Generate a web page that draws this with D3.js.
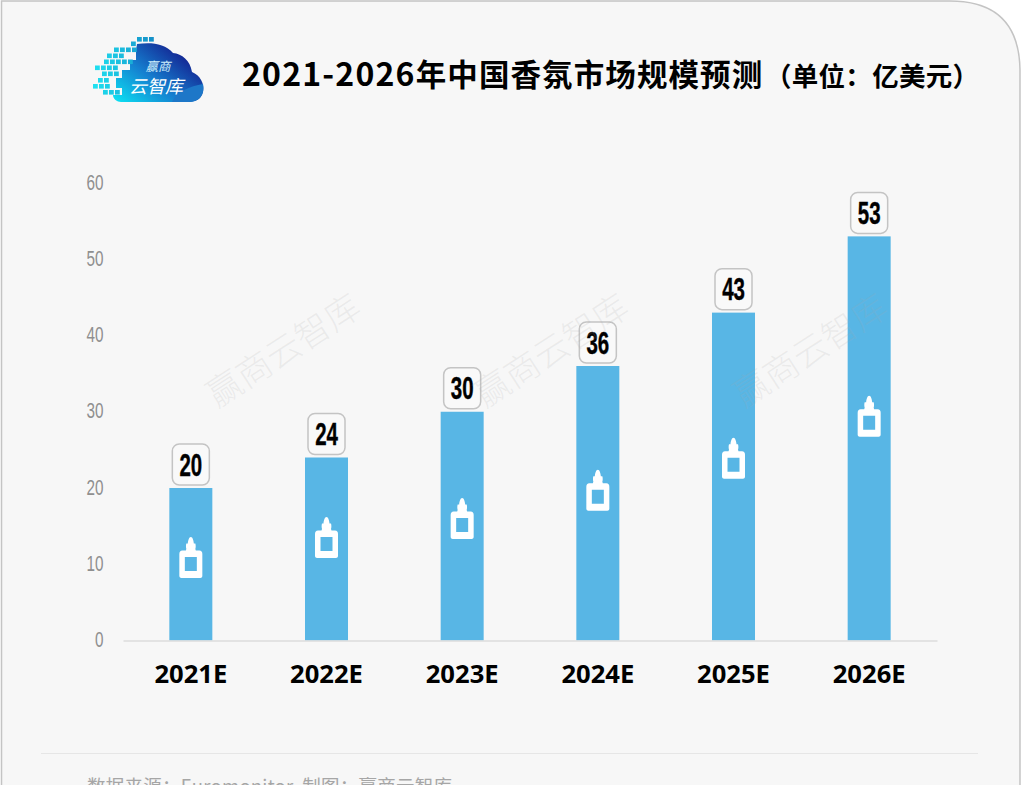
<!DOCTYPE html>
<html>
<head>
<meta charset="utf-8">
<script src="https://cdn.jsdelivr.net/npm/d3@7"></script>
<style>
  html, body { margin: 0; padding: 0; background: #fff; overflow: hidden; }
  svg { display: block; }
</style>
</head>
<body>
<script>
const years = ['2021E', '2022E', '2023E', '2024E', '2025E', '2026E'];
const values = [20, 24, 30, 36, 43, 53];
const bottleLevels = [10.9, 13.5, 16, 19.7, 23.9, 29.4];
const yTicks = [0, 10, 20, 30, 40, 50, 60];
const titleYears = '2021-2026';
const titleMain = '年中国香氛市场规模预测';
const titleUnit = '（单位：亿美元）';
const sourceText = '数据来源：Euromonitor  制图：赢商云智库';
const watermarkText = '赢商云智库';

const w = 1021;
const h = 785;
const cjk = '"Noto Sans CJK SC", "Noto Sans", sans-serif';
const liberation = '"Liberation Sans", sans-serif';

const svg = d3.select('body').append('svg').attr('width', w).attr('height', h);

// Card with the rounded top right corner
svg.append('path')
  .attr('d', 'M1.5,800 V1 H950 Q1019,1 1020,70 V800')
  .attr('fill', '#f7f7f7')
  .attr('stroke', '#c4c4c4')
  .attr('stroke-width', 1.5);

const defs = svg.append('defs');
const grad = defs.append('linearGradient').attr('id', 'cloud')
  .attr('x1', 0).attr('y1', 1).attr('x2', 1).attr('y2', 0.2);
grad.append('stop').attr('offset', '0%').attr('stop-color', '#0ce6f4');
grad.append('stop').attr('offset', '45%').attr('stop-color', '#1580d0');
grad.append('stop').attr('offset', '85%').attr('stop-color', '#142a96');

// Logo
const logo = svg.append('g').attr('class', 'logo');
logo.append('path')
  .attr('d', 'M137,44 C150,42 165,43 173,53 C182,54 190,60 192,72 C200,75 205,84 203,92 C201,100 195,102 188,102 H121 C117,102 113,99 113,95 H122 V88 H116 V78 H122 V70 H130 V60 H136 V50 Z')
  .attr('fill', 'url(#cloud)');
logo.append('path')
  .attr('d', 'M172,102 C176,92 190,86 203,84 C205,94 200,102 188,102 Z')
  .attr('fill', '#1d77c8');

// y position and x starts of the little squares, row by row
const logoRows = [
  { y: 37, xs: [137, 143, 149] },
  { y: 41.5, xs: [131] },
  { y: 47.5, xs: [114, 120, 126, 132] },
  { y: 53.5, xs: [107, 113, 119] },
  { y: 59.5, xs: [104, 110, 116, 122, 128] },
  { y: 65.5, xs: [95, 101, 107, 113] },
  { y: 71.5, xs: [102, 108, 114] },
  { y: 78, xs: [98, 104] },
  { y: 84, xs: [93, 99, 105] },
  { y: 90, xs: [103, 109, 115] }
];
const logoColors = d3.scaleLinear().domain([93, 150]).range(['#1fe0f0', '#1590c8']);
logo.selectAll('g.row')
  .data(logoRows)
  .enter()
  .append('g')
  .attr('class', 'row')
  .selectAll('rect')
  .data(d => d.xs.map(x => ({ x, y: d.y })))
  .enter()
  .append('rect')
  .attr('x', d => d.x)
  .attr('y', d => d.y)
  .attr('width', 4.8)
  .attr('height', 4.6)
  .attr('fill', d => logoColors(d.x));
logo.append('text')
  .attr('x', 158).attr('y', 70.5)
  .attr('text-anchor', 'middle')
  .attr('font-family', cjk).attr('font-size', 12.5).attr('font-style', 'italic')
  .attr('fill', '#cfeefa')
  .text('赢商');
logo.append('text')
  .attr('x', 156).attr('y', 93)
  .attr('text-anchor', 'middle')
  .attr('font-family', cjk).attr('font-size', 18).attr('font-style', 'italic')
  .attr('fill', '#fff')
  .text('云智库');

// Title
const title = svg.append('text')
  .attr('x', 242).attr('y', 86)
  .attr('font-family', cjk).attr('font-size', 30.5).attr('font-weight', 700)
  .attr('fill', '#000');
title.append('tspan').attr('font-size', 32).attr('letter-spacing', 1.2).text(titleYears);
title.append('tspan').attr('letter-spacing', 1.1).text(titleMain);
svg.append('text')
  .attr('x', 765).attr('y', 86)
  .attr('font-family', cjk).attr('font-size', 26.5).attr('font-weight', 700)
  .attr('fill', '#000')
  .attr('textLength', 214)
  .attr('lengthAdjust', 'spacing')
  .text(titleUnit);

// Scales
const xScale = d3.scaleBand()
  .domain(years)
  .range([123, 937])
  .paddingInner(0.683)
  .paddingOuter(0.3415);

const yScale = d3.scaleLinear()
  .domain([0, 60])
  .range([640.5, 183]);

// Bars
svg.selectAll('rect.bar')
  .data(values)
  .enter()
  .append('rect')
  .attr('class', 'bar')
  .attr('x', (d, i) => xScale(years[i]))
  .attr('y', d => yScale(d))
  .attr('width', xScale.bandwidth())
  .attr('height', d => yScale(0) - yScale(d))
  .attr('fill', '#58b6e5');

// Bottle icon
svg.selectAll('path.bottle')
  .data(bottleLevels)
  .enter()
  .append('path')
  .attr('class', 'bottle')
  .attr('transform', (d, i) =>
    `translate(${xScale(years[i]) + xScale.bandwidth() / 2},${yScale(d)})`)
  .attr('fill', '#fff')
  .attr('fill-rule', 'evenodd')
  .attr('d', 'M0,-20.5 C1.8,-20.5 2.8,-17 3,-14 H4.5 C5,-12.5 5,-10 4.5,-8.5 L5,-7 H8.5 C10.5,-7 11.5,-5.5 11.5,-3.5 V18.5 C11.5,19.8 10.5,20.5 9.5,20.5 H-9.5 C-10.5,20.5 -11.5,19.8 -11.5,18.5 V-3.5 C-11.5,-5.5 -10.5,-7 -8.5,-7 H-5 L-4.5,-8.5 C-5,-10 -5,-12.5 -4.5,-14 H-3 C-2.8,-17 -1.8,-20.5 0,-20.5 Z M-6,-0.5 V13.5 H6 V-0.5 Z');

// Value labels
const labels = svg.selectAll('g.value')
  .data(values)
  .enter()
  .append('g')
  .attr('class', 'value')
  .attr('transform', (d, i) =>
    `translate(${xScale(years[i]) + xScale.bandwidth() / 2},${yScale(d) - 23.5})`);
labels.append('rect')
  .attr('x', -18.5).attr('y', -20.5)
  .attr('width', 37).attr('height', 41)
  .attr('rx', 7)
  .attr('fill', '#f9f9f9')
  .attr('stroke', '#c4c4c4')
  .attr('stroke-width', 1.5);
labels.append('text')
  .attr('transform', 'translate(0,11) scale(0.66,1)')
  .attr('text-anchor', 'middle')
  .attr('font-family', liberation).attr('font-size', 31).attr('font-weight', 700)
  .attr('stroke', '#000').attr('stroke-width', 0.4)
  .attr('fill', '#000')
  .text(d => d);

// Axes
const xAxis = svg.append('g')
  .attr('transform', `translate(0,${yScale(0)})`)
  .call(d3.axisBottom(xScale).tickSize(0).tickPadding(24));
xAxis.select('.domain').attr('stroke', '#dcdcdc').attr('stroke-width', 1.5);
xAxis.selectAll('text')
  .attr('font-family', '"Open Sans", sans-serif')
  .attr('font-size', 25.6)
  .attr('font-weight', 700)
  .attr('fill', '#000');

const yAxis = svg.append('g')
  .attr('transform', 'translate(103.5,-1)')
  .call(d3.axisLeft(yScale).tickValues(yTicks).tickSize(0).tickPadding(0));
yAxis.select('.domain').remove();
yAxis.selectAll('text')
  .attr('x', 0)
  .attr('transform', 'scale(0.68,1)')
  .attr('font-family', liberation)
  .attr('font-size', 22.5)
  .attr('fill', '#8f8f8f');

// Watermarks
svg.selectAll('text.mark')
  .data([285, 553, 812])
  .enter()
  .append('text')
  .attr('class', 'mark')
  .attr('transform', d => `translate(${d},353) rotate(-33)`)
  .attr('text-anchor', 'middle')
  .attr('dominant-baseline', 'middle')
  .attr('font-family', cjk).attr('font-size', 35).attr('font-weight', 300)
  .attr('fill', '#a8a8a8')
  .attr('fill-opacity', 0.16)
  .text(watermarkText);

// Footer
svg.append('line')
  .attr('x1', 41).attr('x2', 978)
  .attr('y1', 753.5).attr('y2', 753.5)
  .attr('stroke', '#e6e6e6');
svg.append('text')
  .attr('x', 87).attr('y', 793)
  .attr('font-family', cjk).attr('font-size', 18.5)
  .attr('fill', '#a6a6a6')
  .style('white-space', 'pre')
  .attr('textLength', 365)
  .text(sourceText);
</script>
</body>
</html>
